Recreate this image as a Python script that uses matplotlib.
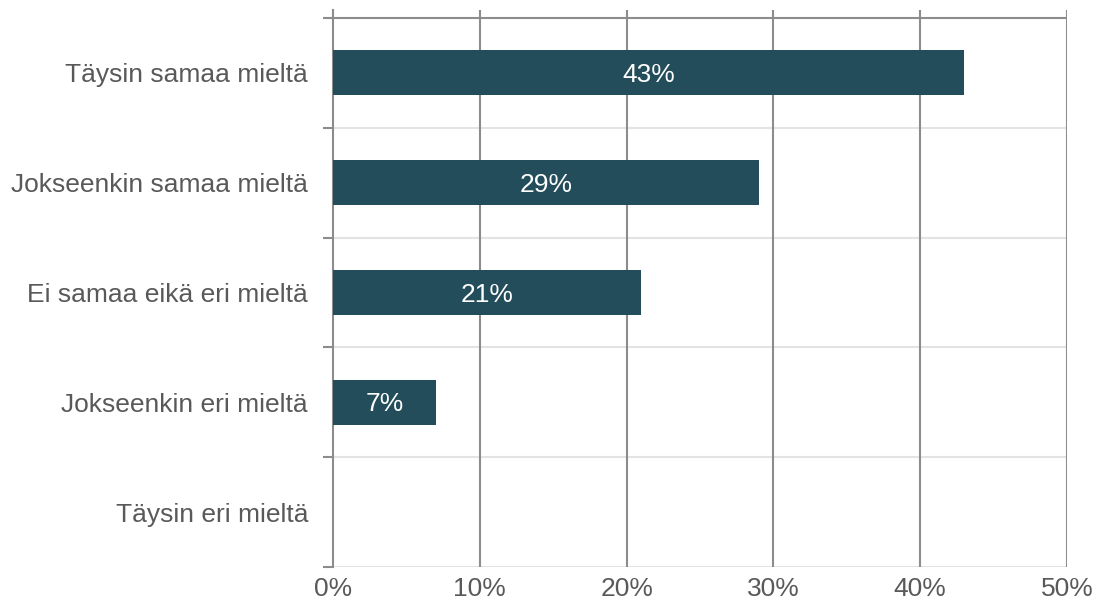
import numpy as np
from matplotlib import pyplot as plt

plt.rcParams['font.family'] = ['Liberation Sans', 'DejaVu Sans']

categories = ['Täysin samaa mieltä', 'Jokseenkin samaa mieltä', 'Ei samaa eikä eri mieltä',
              'Jokseenkin eri mieltä', 'Täysin eri mieltä']
shares = [43, 29, 21, 7, 0]
xticks = [0, 10, 20, 30, 40, 50]

bar_col = '#234D5A'
text_col = '#595959'
dark_grid = '#8C8C8C'
light_grid = '#E3E3E3'

fig = plt.figure(figsize=(11.04, 6.10), dpi=100)
ax = fig.add_axes([333/1104, 1-567/610, (1067-333)/1104, (567-10)/610])

y = np.arange(len(categories))
bars = ax.barh(y, shares, height=0.41, color=bar_col, zorder=3)
for b, v in zip(bars, shares):
    if v > 0:
        ax.text(v/2, b.get_y()+b.get_height()/2 + 0.02, f'{v}%', ha='center', va='center',
                color='white', fontsize=19, zorder=4)

ax.set_xlim(0, 50)
ax.set_ylim(4.5, -0.5 - 8/110)

# vertical grid at each tick
for t in xticks[1:]:
    ax.axvline(t, color=dark_grid, lw=1.5, zorder=1)

# category separators
ax.hlines(-0.5, -0.2, 50, color=dark_grid, lw=1.5, zorder=2, clip_on=False)
for b in [0.5, 1.5, 2.5, 3.5, 4.5]:
    ax.axhline(b, color=light_grid, lw=1.5, zorder=0)

for s in ['top', 'right', 'bottom']:
    ax.spines[s].set_visible(False)
ax.spines['left'].set_color(dark_grid)
ax.spines['left'].set_linewidth(1.5)

ax.set_xticks(xticks)
ax.set_xticklabels([f'{t}%' for t in xticks])
ax.tick_params(axis='x', length=0, pad=7, labelsize=19, labelcolor=text_col)

ax.set_yticks([-0.5, 0.5, 1.5, 2.5, 3.5, 4.5])
ax.set_yticklabels([])
ax.set_yticks(y, minor=True)
ax.set_yticklabels(categories, minor=True)
ax.tick_params(axis='y', which='major', length=7, width=1.5, color=dark_grid, direction='out')
ax.tick_params(axis='y', which='minor', length=0, pad=18, labelsize=19, labelcolor=text_col)

fig.savefig('out.png', dpi=100)
